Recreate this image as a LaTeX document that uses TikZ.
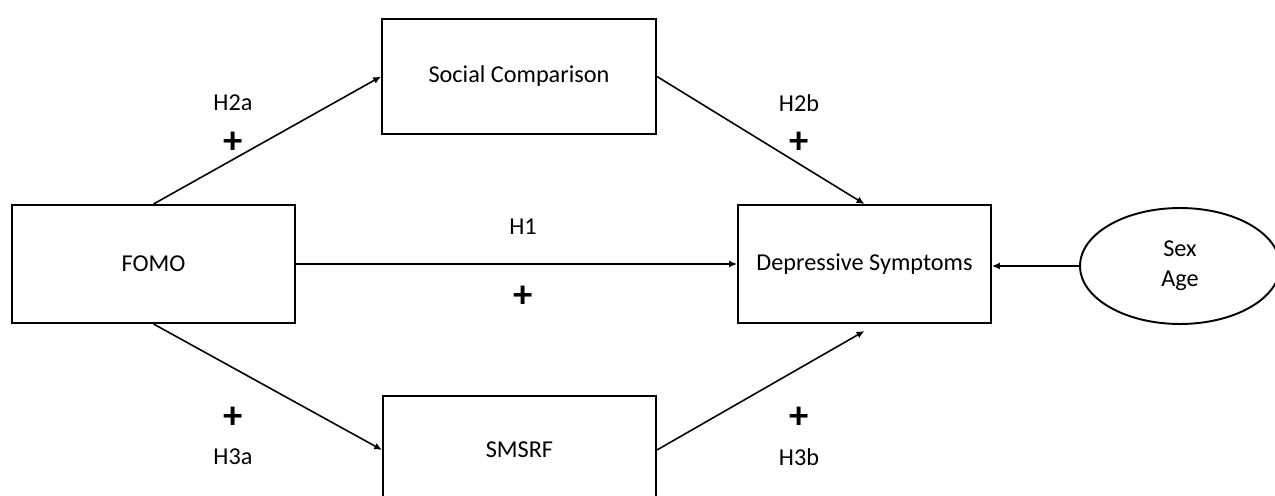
\documentclass[tikz,border=0pt]{standalone}
\usepackage{fontspec}
\setmainfont{Carlito}
\usetikzlibrary{arrows.meta,shapes.geometric}

\begin{document}
\begin{tikzpicture}[x=0.02cm,y=-0.02cm,
  box/.style={draw, line width=1.1pt, rectangle, font=\fontsize{13.8}{16}\selectfont},
  link/.style={-{Latex[length=4.5pt,width=4pt]}, line width=0.9pt},
  hyp/.style={font=\fontsize{13.8}{16}\selectfont},
  plus/.style={font=\fontsize{22}{22}\selectfont\bfseries}]
\useasboundingbox (0,0) rectangle (1275,496);

% constructs
\node [box, minimum width=5.66cm, minimum height=2.36cm] (fomo) at (153.5,264) {FOMO};
\node [box, minimum width=5.48cm, minimum height=2.3cm] (sc) at (519,76.5) {Social Comparison};
\node [box, minimum width=5.46cm, minimum height=2.16cm] (smsrf) at (519.5,450) {SMSRF};
\node [box, minimum width=5.06cm, minimum height=2.36cm] (ds) at (864.5,264) {Depressive Symptoms};
\node [draw, ellipse, line width=1.1pt, minimum width=4cm, minimum height=2.32cm,
  align=center, font=\fontsize{13.8}{17}\selectfont] (ctrl) at (1180,266) {Sex\\Age};

% paths
\draw [link] (fomo.north) -- (sc.west);
\draw [link] (sc.east) -- (ds.north);
\draw [link] (fomo.east) -- (ds.west);
\draw [link] (fomo.south) -- (smsrf.west);
\draw [link] (smsrf.east) -- ([yshift=-4pt]ds.south);
\draw [link] (ctrl.west) -- (ctrl.west -| ds.east);

% hypotheses
\node [hyp] (h2a) at (233,103) {H2a};
\node [plus] (p2a) at (233,143) {+};
\node [hyp] (h2b) at (799,103) {H2b};
\node [plus] (p2b) at (799,143) {+};
\node [hyp] (h1) at (523,227) {H1};
\node [plus] (p1) at (523,297) {+};
\node [plus] (p3a) at (233,418) {+};
\node [hyp] (h3a) at (233,457) {H3a};
\node [plus] (p3b) at (799,418) {+};
\node [hyp] (h3b) at (799,457) {H3b};

\end{tikzpicture}
\end{document}
